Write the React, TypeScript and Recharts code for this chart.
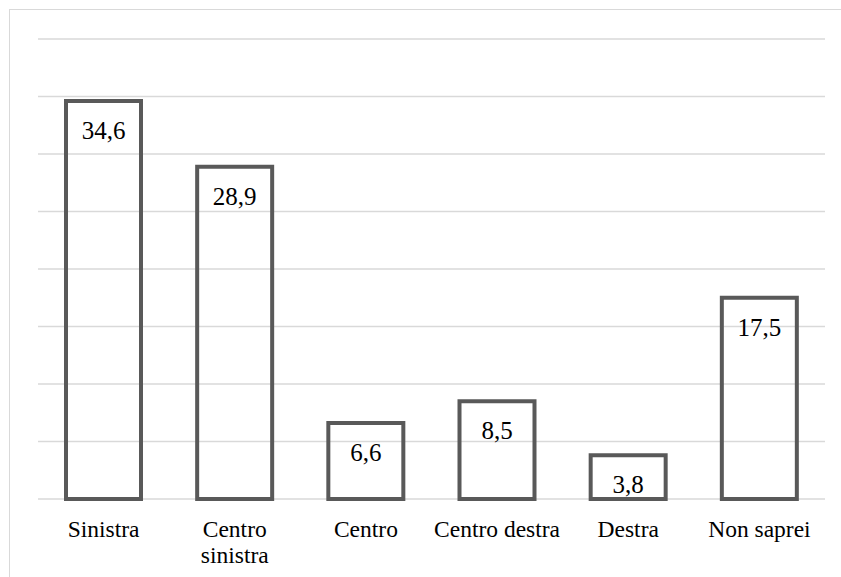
import React from 'react';
import { BarChart, Bar, XAxis, YAxis, CartesianGrid, LabelList } from 'recharts';

const categories = ['Sinistra', 'Centro sinistra', 'Centro', 'Centro destra', 'Destra', 'Non saprei'];
const values = [34.6, 28.9, 6.6, 8.5, 3.8, 17.5];
const yTicks = [0, 5, 10, 15, 20, 25, 30, 35, 40];

const data = categories.map((name, i) => ({ name, value: values[i] }));

const SERIF = 'Liberation Serif';

// long category names go on two lines, split at the first space
function CategoryTick(props: any) {
  const { x, y, payload } = props;
  const label: string = String(payload.value);
  const lines = label.length > 13 ? [label.slice(0, label.indexOf(' ')), label.slice(label.indexOf(' ') + 1)] : [label];
  return (
    <text x={x} y={y} textAnchor="middle" fill="#000" fontSize={23.5} fontFamily={SERIF}>
      {lines.map((line, i) => (
        <tspan key={i} x={x} dy={i === 0 ? 16.7 : 26}>
          {line}
        </tspan>
      ))}
    </text>
  );
}

function ValueLabel(props: any) {
  const { x, y, width, value } = props;
  return (
    <text x={x + width / 2} y={y + 38} textAnchor="middle" fill="#000" fontSize={25} fontFamily={SERIF}>
      {String(value).replace('.', ',')}
    </text>
  );
}

export default function App() {
  return (
    <div
      style={{
        position: 'absolute',
        left: 0,
        top: 0,
        width: 841,
        height: 577,
        overflow: 'hidden',
        background: '#fff',
      }}
    >
      {/* chart area frame */}
      <div
        style={{
          position: 'absolute',
          left: 9,
          top: 9,
          width: 860,
          height: 600,
          border: '1.5px solid #d9d9d9',
        }}
      />
      <div style={{ position: 'absolute', left: 0, top: 0 }}>
        <BarChart
          width={841}
          height={577}
          data={data}
          margin={{ top: 39, right: 16, bottom: 18, left: 38 }}
        >
          <CartesianGrid vertical={false} stroke="#d9d9d9" strokeWidth={1.5} />
          <XAxis
            dataKey="name"
            axisLine={false}
            tickLine={false}
            tickSize={0}
            tickMargin={21}
            height={60}
            interval={0}
            tick={<CategoryTick />}
          />
          <YAxis hide domain={[0, 40]} ticks={yTicks} />
          <Bar
            dataKey="value"
            fill="none"
            stroke="#595959"
            strokeWidth={4}
            barSize={75}
            isAnimationActive={false}
          >
            <LabelList dataKey="value" content={<ValueLabel />} />
          </Bar>
        </BarChart>
      </div>
    </div>
  );
}
